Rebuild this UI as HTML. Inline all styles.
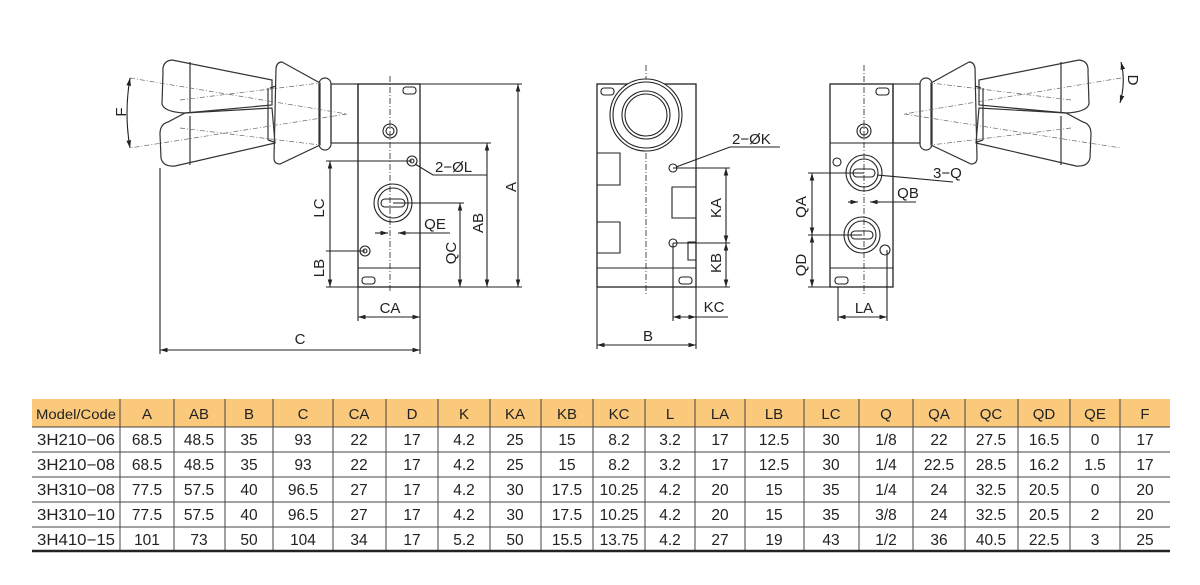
<!DOCTYPE html>
<html><head><meta charset="utf-8"><style>
html,body{margin:0;padding:0;background:#fff;}
svg{display:block;}
text{font-family:"Liberation Sans",sans-serif;fill:#222;}
</style></head><body>
<svg width="1200" height="585" viewBox="0 0 1200 585" xmlns="http://www.w3.org/2000/svg">
<defs>
<marker id="ar" viewBox="0 0 10 10" refX="10" refY="5" markerWidth="7" markerHeight="7" orient="auto-start-reverse"><path d="M0,2 L10,5 L0,8 z" fill="#222"/></marker>
<g id="act" fill="none" stroke="#333" stroke-width="1.2">
  <path d="M172,60 Q162,61 163,72 L162,104 Q164,112 185,113 L272,105 L272,80 Z"/>
  <path d="M190,62 L190,112"/>
  <path d="M168,122 Q160,124 160,134 L161,158 Q163,167 175,166 L275,143 L272,108 L185,113 Z"/>
  <path d="M190,116 L190,165"/>
  <path d="M282,62 L320,83 L320,145 L280,164 Q274,164 274,158 L276,68 Q277,62 282,62 Z"/>
  <path d="M270,88 L276,86 M268,140 L274,142 M268,88 L268,140"/>
  <rect x="319" y="78" width="12" height="72" rx="6"/>
  <rect x="331" y="84" width="27" height="59"/>
  <g stroke-dasharray="5,2,1,2" stroke-width="0.7" stroke="#666">
   <path d="M130,78 L347,114 L130,148"/>
   <path d="M180,100 L320,83 M180,128 L320,145"/>
  </g>
</g>
</defs>
<g stroke="#222" stroke-width="1.1" fill="none">
<use href="#act"/>
<rect x="358" y="84" width="62" height="203" stroke-width="1.3"/>
<line x1="358" y1="143" x2="420" y2="143"/>
<line x1="358" y1="268" x2="420" y2="268"/>
<line x1="390" y1="76" x2="390" y2="293" stroke-dasharray="6,2,1,2" stroke-width="0.8"/>
<circle cx="390" cy="131" r="7"/><circle cx="390" cy="131" r="4"/>
<circle cx="393" cy="203" r="19"/><circle cx="393" cy="203" r="15"/>
<rect x="381" y="199" width="24" height="8" rx="4"/>
<circle cx="412" cy="161" r="5"/><circle cx="412" cy="161" r="2"/>
<circle cx="365" cy="251" r="5"/><circle cx="365" cy="251" r="2"/>
<rect x="403" y="87" width="13" height="7" rx="3"/>
<rect x="362" y="277" width="13" height="7" rx="3"/>
<line x1="420" y1="84" x2="522" y2="84"/><line x1="420" y1="287" x2="522" y2="287"/>
<line x1="358" y1="287" x2="326" y2="287"/>
<line x1="518" y1="84" x2="518" y2="287" marker-start="url(#ar)" marker-end="url(#ar)"/>
<line x1="420" y1="143" x2="491" y2="143"/>
<line x1="487" y1="143" x2="487" y2="287" marker-start="url(#ar)" marker-end="url(#ar)"/>
<line x1="393" y1="203" x2="464" y2="203"/>
<line x1="460" y1="203" x2="460" y2="287" marker-start="url(#ar)" marker-end="url(#ar)"/>
<line x1="412" y1="161" x2="326" y2="161"/>
<line x1="330" y1="161" x2="330" y2="287" marker-start="url(#ar)" marker-end="url(#ar)"/>
<line x1="365" y1="251" x2="326" y2="251"/>
<line x1="358" y1="287" x2="358" y2="321"/><line x1="420" y1="287" x2="420" y2="354"/>
<line x1="358" y1="317" x2="420" y2="317" marker-start="url(#ar)" marker-end="url(#ar)"/>
<line x1="160" y1="168" x2="160" y2="354"/>
<line x1="160" y1="350" x2="420" y2="350" marker-start="url(#ar)" marker-end="url(#ar)"/>
<line x1="375" y1="233" x2="388" y2="233" marker-end="url(#ar)"/>
<line x1="410" y1="233" x2="398" y2="233" marker-end="url(#ar)"/>
<line x1="398" y1="233" x2="450" y2="233"/>
<path d="M130,78 Q124,113 130,148" marker-start="url(#ar)" marker-end="url(#ar)"/>
<path d="M415,164 L433,175 L487,175"/>

<rect x="597" y="84" width="99" height="203" stroke-width="1.3"/>
<line x1="597" y1="268" x2="696" y2="268"/>
<line x1="646" y1="65" x2="646" y2="295" stroke-dasharray="6,2,1,2" stroke-width="0.8"/>
<circle cx="646" cy="115" r="36" fill="#fff"/><circle cx="646" cy="115" r="33"/>
<circle cx="646" cy="115" r="24"/><circle cx="646" cy="115" r="21"/>
<rect x="601" y="88" width="13" height="7" rx="3"/>
<path d="M597,153 L620,153 L620,185 L597,185 M597,222 L620,222 L620,253 L597,253"/>
<path d="M696,187 L672,187 L672,218 L696,218 M696,242 L688,242 L688,260 L696,260"/>
<circle cx="673" cy="168" r="4"/><circle cx="673" cy="243" r="4"/>
<rect x="679" y="277" width="13" height="7" rx="3"/>
<line x1="673" y1="168" x2="730" y2="168"/><line x1="673" y1="243" x2="730" y2="243"/>
<line x1="696" y1="287" x2="730" y2="287"/>
<line x1="726" y1="168" x2="726" y2="243" marker-start="url(#ar)" marker-end="url(#ar)"/>
<line x1="726" y1="243" x2="726" y2="287" marker-start="url(#ar)" marker-end="url(#ar)"/>
<line x1="673" y1="243" x2="673" y2="321"/><line x1="696" y1="287" x2="696" y2="349"/>
<line x1="597" y1="287" x2="597" y2="349"/>
<line x1="673" y1="317" x2="696" y2="317" marker-start="url(#ar)" marker-end="url(#ar)"/>
<line x1="696" y1="317" x2="728" y2="317"/>
<line x1="597" y1="345" x2="696" y2="345" marker-start="url(#ar)" marker-end="url(#ar)"/>
<path d="M676,167 L730,147 L780,147"/>

<use href="#act" transform="translate(1251,0) scale(-1,1)"/>
<rect x="830" y="84" width="63" height="203" stroke-width="1.3"/>
<line x1="830" y1="143" x2="893" y2="143"/>
<line x1="830" y1="268" x2="893" y2="268"/>
<line x1="864" y1="65" x2="864" y2="295" stroke-dasharray="6,2,1,2" stroke-width="0.8"/>
<circle cx="864" cy="131" r="7"/><circle cx="864" cy="131" r="4"/>
<circle cx="864" cy="173" r="18"/><circle cx="864" cy="173" r="14"/>
<rect x="853" y="169" width="22" height="8" rx="4"/>
<circle cx="862" cy="235" r="18"/><circle cx="862" cy="235" r="14"/>
<rect x="851" y="231" width="22" height="8" rx="4"/>
<circle cx="837" cy="162" r="4"/><circle cx="885" cy="250" r="5"/>
<rect x="876" y="88" width="13" height="7" rx="3"/>
<rect x="835" y="277" width="13" height="7" rx="3"/>
<line x1="864" y1="173" x2="808" y2="173"/><line x1="862" y1="235" x2="808" y2="235"/>
<line x1="830" y1="287" x2="808" y2="287"/>
<line x1="812" y1="173" x2="812" y2="235" marker-start="url(#ar)" marker-end="url(#ar)"/>
<line x1="812" y1="235" x2="812" y2="287" marker-start="url(#ar)" marker-end="url(#ar)"/>
<line x1="838" y1="287" x2="838" y2="321"/><line x1="887" y1="250" x2="887" y2="321"/>
<line x1="838" y1="317" x2="887" y2="317" marker-start="url(#ar)" marker-end="url(#ar)"/>
<line x1="848" y1="202" x2="858" y2="202" marker-end="url(#ar)"/>
<line x1="880" y1="202" x2="870" y2="202" marker-end="url(#ar)"/>
<line x1="870" y1="202" x2="916" y2="202"/>
<path d="M877,175 L953,182"/>
<path d="M1121,62 Q1126,82 1120,103" marker-start="url(#ar)" marker-end="url(#ar)"/>
</g>

<g font-size="15">
<text x="122" y="112" transform="rotate(-90 122 112)" text-anchor="middle" dominant-baseline="middle">F</text>
<text x="435" y="172">2−ØL</text>
<text x="512" y="187" transform="rotate(-90 512 187)" text-anchor="middle" dominant-baseline="middle">A</text>
<text x="479" y="223" transform="rotate(-90 479 223)" text-anchor="middle" dominant-baseline="middle">AB</text>
<text x="452" y="253" transform="rotate(-90 452 253)" text-anchor="middle" dominant-baseline="middle">QC</text>
<text x="320" y="208" transform="rotate(-90 320 208)" text-anchor="middle" dominant-baseline="middle">LC</text>
<text x="320" y="268" transform="rotate(-90 320 268)" text-anchor="middle" dominant-baseline="middle">LB</text>
<text x="435" y="229" text-anchor="middle">QE</text>
<text x="390" y="313" text-anchor="middle">CA</text>
<text x="300" y="344" text-anchor="middle">C</text>
<text x="732" y="144">2−ØK</text>
<text x="717" y="208" transform="rotate(-90 717 208)" text-anchor="middle" dominant-baseline="middle">KA</text>
<text x="717" y="263" transform="rotate(-90 717 263)" text-anchor="middle" dominant-baseline="middle">KB</text>
<text x="714" y="312" text-anchor="middle">KC</text>
<text x="648" y="341" text-anchor="middle">B</text>
<text x="933" y="178">3−Q</text>
<text x="908" y="198" text-anchor="middle">QB</text>
<text x="802" y="207" transform="rotate(-90 802 207)" text-anchor="middle" dominant-baseline="middle">QA</text>
<text x="802" y="265" transform="rotate(-90 802 265)" text-anchor="middle" dominant-baseline="middle">QD</text>
<text x="864" y="313" text-anchor="middle">LA</text>
<text x="1132" y="80" transform="rotate(90 1132 80)" text-anchor="middle" dominant-baseline="middle">D</text>
</g>

<rect x="32" y="399" width="1138" height="28" fill="#fbc97c"/>
<g stroke="#444" stroke-width="1">
<line x1="32" y1="427" x2="1170" y2="427"/>
<line x1="32" y1="452" x2="1170" y2="452"/>
<line x1="32" y1="477" x2="1170" y2="477"/>
<line x1="32" y1="502" x2="1170" y2="502"/>
<line x1="32" y1="527" x2="1170" y2="527"/>
<line x1="120" y1="399" x2="120" y2="551"/><line x1="174" y1="399" x2="174" y2="551"/>
<line x1="225" y1="399" x2="225" y2="551"/><line x1="273" y1="399" x2="273" y2="551"/>
<line x1="333" y1="399" x2="333" y2="551"/><line x1="386" y1="399" x2="386" y2="551"/>
<line x1="438" y1="399" x2="438" y2="551"/><line x1="490" y1="399" x2="490" y2="551"/>
<line x1="541" y1="399" x2="541" y2="551"/><line x1="593" y1="399" x2="593" y2="551"/>
<line x1="645" y1="399" x2="645" y2="551"/><line x1="695" y1="399" x2="695" y2="551"/>
<line x1="745" y1="399" x2="745" y2="551"/><line x1="804" y1="399" x2="804" y2="551"/>
<line x1="859" y1="399" x2="859" y2="551"/><line x1="913" y1="399" x2="913" y2="551"/>
<line x1="965" y1="399" x2="965" y2="551"/><line x1="1018" y1="399" x2="1018" y2="551"/>
<line x1="1070" y1="399" x2="1070" y2="551"/><line x1="1120" y1="399" x2="1120" y2="551"/>
</g>
<line x1="32" y1="551" x2="1170" y2="551" stroke="#222" stroke-width="2.5"/>
<g font-size="15" text-anchor="middle">
<text x="76" y="419" font-size="13.5" textLength="80" lengthAdjust="spacingAndGlyphs">Model/Code</text>
<text x="147" y="419">A</text><text x="199" y="419">AB</text><text x="249" y="419">B</text><text x="303" y="419">C</text><text x="359" y="419">CA</text><text x="412" y="419">D</text><text x="464" y="419">K</text><text x="515" y="419">KA</text><text x="567" y="419">KB</text><text x="619" y="419">KC</text><text x="670" y="419">L</text><text x="720" y="419">LA</text><text x="774" y="419">LB</text><text x="831" y="419">LC</text><text x="886" y="419">Q</text><text x="939" y="419">QA</text><text x="991" y="419">QC</text><text x="1044" y="419">QD</text><text x="1095" y="419">QE</text><text x="1145" y="419">F</text>
</g>
<g font-size="15.5" text-anchor="middle">
<g transform="translate(0,445)">
<text x="76" textLength="78" lengthAdjust="spacingAndGlyphs">3H210−06</text>
<text x="147">68.5</text><text x="199">48.5</text><text x="249">35</text><text x="303">93</text><text x="359">22</text><text x="412">17</text><text x="464">4.2</text><text x="515">25</text><text x="567">15</text><text x="619">8.2</text><text x="670">3.2</text><text x="720">17</text><text x="774">12.5</text><text x="831">30</text><text x="886">1/8</text><text x="939">22</text><text x="991">27.5</text><text x="1044">16.5</text><text x="1095">0</text><text x="1145">17</text>
</g>
<g transform="translate(0,470)">
<text x="76" textLength="78" lengthAdjust="spacingAndGlyphs">3H210−08</text>
<text x="147">68.5</text><text x="199">48.5</text><text x="249">35</text><text x="303">93</text><text x="359">22</text><text x="412">17</text><text x="464">4.2</text><text x="515">25</text><text x="567">15</text><text x="619">8.2</text><text x="670">3.2</text><text x="720">17</text><text x="774">12.5</text><text x="831">30</text><text x="886">1/4</text><text x="939">22.5</text><text x="991">28.5</text><text x="1044">16.2</text><text x="1095">1.5</text><text x="1145">17</text>
</g>
<g transform="translate(0,495)">
<text x="76" textLength="78" lengthAdjust="spacingAndGlyphs">3H310−08</text>
<text x="147">77.5</text><text x="199">57.5</text><text x="249">40</text><text x="303">96.5</text><text x="359">27</text><text x="412">17</text><text x="464">4.2</text><text x="515">30</text><text x="567">17.5</text><text x="619">10.25</text><text x="670">4.2</text><text x="720">20</text><text x="774">15</text><text x="831">35</text><text x="886">1/4</text><text x="939">24</text><text x="991">32.5</text><text x="1044">20.5</text><text x="1095">0</text><text x="1145">20</text>
</g>
<g transform="translate(0,520)">
<text x="76" textLength="78" lengthAdjust="spacingAndGlyphs">3H310−10</text>
<text x="147">77.5</text><text x="199">57.5</text><text x="249">40</text><text x="303">96.5</text><text x="359">27</text><text x="412">17</text><text x="464">4.2</text><text x="515">30</text><text x="567">17.5</text><text x="619">10.25</text><text x="670">4.2</text><text x="720">20</text><text x="774">15</text><text x="831">35</text><text x="886">3/8</text><text x="939">24</text><text x="991">32.5</text><text x="1044">20.5</text><text x="1095">2</text><text x="1145">20</text>
</g>
<g transform="translate(0,545)">
<text x="76" textLength="78" lengthAdjust="spacingAndGlyphs">3H410−15</text>
<text x="147">101</text><text x="199">73</text><text x="249">50</text><text x="303">104</text><text x="359">34</text><text x="412">17</text><text x="464">5.2</text><text x="515">50</text><text x="567">15.5</text><text x="619">13.75</text><text x="670">4.2</text><text x="720">27</text><text x="774">19</text><text x="831">43</text><text x="886">1/2</text><text x="939">36</text><text x="991">40.5</text><text x="1044">22.5</text><text x="1095">3</text><text x="1145">25</text>
</g>
</g>
</svg>
</body></html>
